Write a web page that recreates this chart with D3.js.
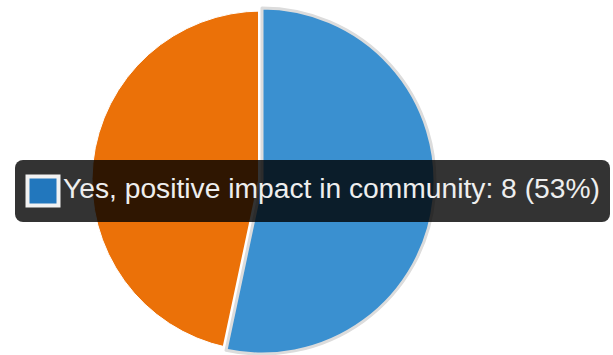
<!DOCTYPE html>
<html>
<head>
<meta charset="utf-8">
<script src="https://cdn.jsdelivr.net/npm/d3@7"></script>
<style>
  html, body { margin: 0; padding: 0; background: #fff; }
  svg { display: block; }
</style>
</head>
<body>
<svg id="chart" width="613" height="355"></svg>
<script>
const categories = ["Yes, positive impact in community", "No, no impact in community"];
const values = [8, 7];
const colors = ["#3a90d0", "#eb7108"];
const highlighted = 0;

const W = 613, H = 355;
const cx = 262, cy = 181, R = 170;

const svg = d3.select("#chart");
const total = d3.sum(values);
const data = categories.map((c, i) => ({ name: c, value: values[i], color: colors[i] }));

const pie = d3.pie().sort(null).value(d => d.value).startAngle(0).endAngle(2 * Math.PI);
const arcs = pie(data);

const g = svg.append("g").attr("transform", `translate(${cx},${cy})`);
const arcNormal = d3.arc().innerRadius(0).outerRadius(R);
const arcHover = d3.arc().innerRadius(0).outerRadius(R + 3);

// non-highlighted slices
g.selectAll("path.slice")
  .data(arcs.filter((a, i) => i !== highlighted))
  .enter().append("path")
  .attr("class", "slice")
  .attr("d", arcNormal)
  .attr("fill", d => d.data.color)
  .attr("stroke", "#fff")
  .attr("stroke-width", 1);

// highlighted slice with white gap and light grey ring
const hl = arcs[highlighted];
g.append("path").attr("d", arcHover(hl))
  .attr("fill", "none").attr("stroke", "#fff").attr("stroke-width", 8)
  .attr("stroke-linejoin", "round");
g.append("path").attr("d", arcHover(hl))
  .attr("fill", hl.data.color).attr("stroke", "#dcdcdc").attr("stroke-width", 3)
  .attr("stroke-linejoin", "round");

// tooltip
const tip = svg.append("g");
tip.append("rect")
  .attr("x", 15).attr("y", 160).attr("width", 595).attr("height", 62)
  .attr("rx", 8).attr("ry", 8)
  .attr("fill", "rgba(0,0,0,0.8)");
tip.append("rect")
  .attr("x", 27.5).attr("y", 176.5).attr("width", 31).attr("height", 29)
  .attr("fill", "#2277bd").attr("stroke", "#f2f2f2").attr("stroke-width", 4);
const d0 = data[highlighted];
const pct = Math.round(d0.value / total * 100);
const label = tip.append("text")
  .attr("x", 63).attr("y", 198)
  .attr("fill", "#eeeeee")
  .attr("font-family", "Arial, 'Liberation Sans', sans-serif")
  .attr("font-size", 29)
  .text(`${d0.name}: ${d0.value} (${pct}%)`);
const len = label.node().getComputedTextLength();
const target = 537;
label.attr("font-size", (29 * target / len).toFixed(2));
</script>
</body>
</html>
